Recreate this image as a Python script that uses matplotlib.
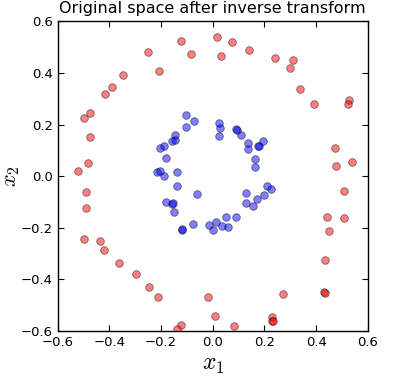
import matplotlib
matplotlib.use("Agg")
import matplotlib.pyplot as plt
import numpy as np

# outer circle (red) and inner circle (blue)
red_x = [-0.124, -0.083, -0.251, -0.209, -0.345, -0.388, -0.415, -0.476, -0.497, -0.476,
         -0.484, -0.519, 0.015, 0.073, 0.031, 0.139, 0.241, 0.310, 0.300, 0.338,
         0.390, 0.527, 0.523, 0.474, 0.540, 0.478, 0.507, -0.488, -0.488, -0.497,
         -0.434, -0.422, -0.364, -0.295, -0.247, -0.210, -0.124, -0.138, 0.441, 0.507,
         0.450, 0.432, 0.430, 0.435, 0.271, -0.017, 0.009, 0.083, 0.229, 0.229, 0.231]
red_y = [0.522, 0.473, 0.480, 0.409, 0.393, 0.347, 0.318, 0.245, 0.225, 0.152,
         0.050, 0.021, 0.539, 0.520, 0.464, 0.489, 0.458, 0.451, 0.420, 0.338,
         0.281, 0.295, 0.281, 0.109, 0.056, 0.039, -0.056, -0.063, -0.125, -0.245,
         -0.252, -0.285, -0.336, -0.378, -0.431, -0.469, -0.577, -0.593, -0.160, -0.161,
         -0.214, -0.326, -0.450, -0.453, -0.456, -0.469, -0.540, -0.580, -0.546, -0.562, -0.560]

blue_x = [-0.105, -0.072, -0.103, -0.145, -0.144, -0.159, -0.189, -0.203, -0.181, -0.217,
          -0.205, -0.188, -0.139, -0.140, -0.060, -0.181, -0.159, -0.155, -0.150, -0.119,
          -0.117, -0.078, -0.013, 0.002, 0.014, 0.034, 0.052, 0.058, 0.090, 0.129,
          0.129, 0.155, 0.170, 0.200, 0.211, 0.226, 0.164, 0.164, 0.176, 0.178,
          0.196, 0.135, 0.135, 0.108, 0.090, 0.092, 0.024, 0.028, 0.026]
blue_y = [0.236, 0.214, 0.192, 0.158, 0.140, 0.135, 0.115, 0.109, 0.071, 0.016,
          0.019, 0.000, 0.016, -0.037, -0.068, -0.102, -0.107, -0.105, -0.139, -0.209,
          -0.205, -0.186, -0.191, -0.210, -0.176, -0.195, -0.160, -0.198, -0.160, -0.066,
          -0.105, -0.116, -0.087, -0.074, -0.040, -0.049, 0.034, 0.065, 0.118, 0.116,
          0.136, 0.105, 0.130, 0.159, 0.181, 0.178, 0.155, 0.185, 0.205]

plt.rcParams["mathtext.fontset"] = "cm"

fig = plt.figure(figsize=(3.95, 3.77), dpi=100)
ax = fig.add_axes([0.1456, 0.122, 0.786, 0.8215])

ax.scatter(red_x, red_y, c="red", s=30, alpha=0.5, edgecolors="k", linewidths=0.6)
ax.scatter(blue_x, blue_y, c="blue", s=30, alpha=0.5, edgecolors="k", linewidths=0.6)

ax.set_xlim(-0.6, 0.6)
ax.set_ylim(-0.6, 0.6)
ax.set_xticks(np.linspace(-0.6, 0.6, 7))
ax.set_yticks(np.linspace(-0.6, 0.6, 7))
ax.tick_params(direction="in", top=True, right=True, length=4, labelsize=9.5)
for s in ax.spines.values():
    s.set_linewidth(1.0)

ax.set_title("Original space after inverse transform", fontsize=11.5)
ax.set_xlabel("$x_1$", fontsize=17, labelpad=2)
ax.set_ylabel("$x_2$", fontsize=16, labelpad=0)
ax.yaxis.set_label_coords(-0.115, 0.5)

fig.savefig("out.png", dpi=100)
